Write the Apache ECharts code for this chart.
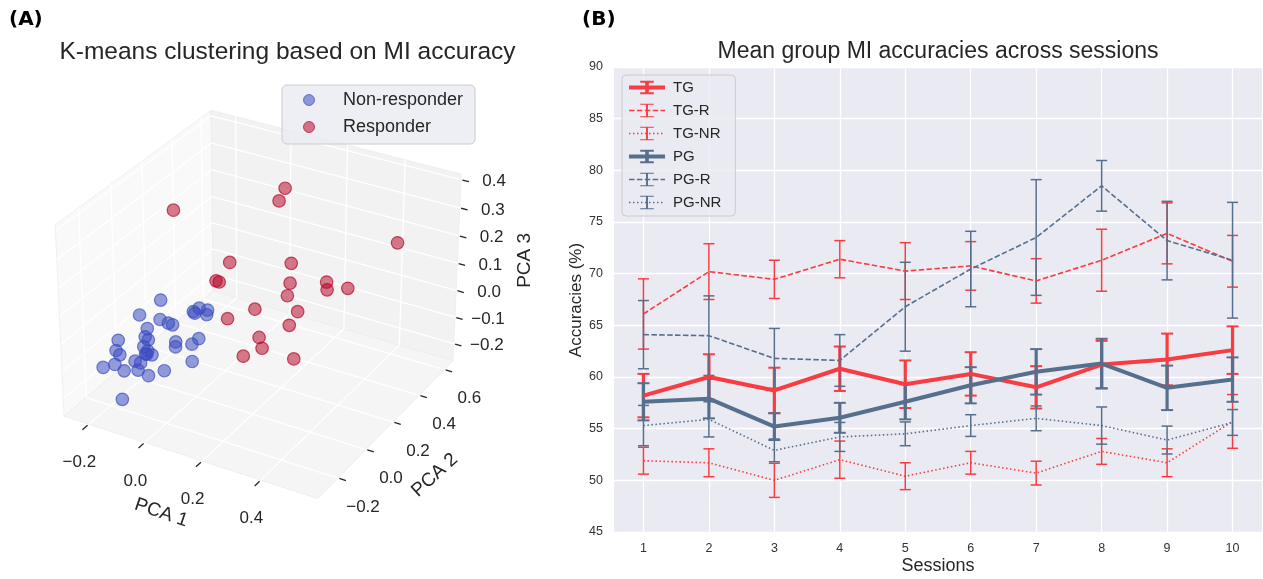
<!DOCTYPE html>
<html>
<head>
<meta charset="utf-8">
<script src="https://cdn.jsdelivr.net/npm/echarts@6/dist/echarts.min.js"></script>
<style>
  html, body { margin: 0; padding: 0; background: #ffffff; }
  #chart { width: 1263px; height: 579px; }
</style>
</head>
<body>
<div id="chart"></div>
<script>
// ---------------- Panel B: mean MI accuracy (%) per session ----------------
const sessions = [1, 2, 3, 4, 5, 6, 7, 8, 9, 10];

const tgMean   = [58.2, 60.0, 58.7, 60.8, 59.3, 60.3, 59.0, 61.2, 61.7, 62.6];
const tgErr    = [2.1, 2.2, 2.2, 2.15, 2.3, 2.1, 2.05, 2.3, 2.5, 2.3];
const tgRMean  = [66.1, 70.2, 69.45, 71.4, 70.25, 70.75, 69.3, 71.3, 73.9, 71.2];
const tgRErr   = [3.4, 2.7, 1.85, 1.8, 2.75, 2.35, 2.15, 3.0, 2.95, 2.5];
const tgNRMean = [51.9, 51.7, 50.0, 52.0, 50.4, 51.7, 50.7, 52.8, 51.7, 55.7];
const tgNRErr  = [1.3, 1.35, 1.65, 1.8, 1.3, 1.1, 1.15, 1.25, 1.35, 2.6];

const pgMean   = [57.6, 57.9, 55.2, 56.05, 57.6, 59.2, 60.5, 61.3, 58.95, 59.75];
const pgErr    = [1.8, 1.9, 1.3, 1.45, 1.7, 1.75, 2.2, 2.4, 2.15, 2.15];
const pgRMean  = [64.1, 64.0, 61.8, 61.6, 66.8, 70.45, 73.5, 78.5, 73.2, 71.3];
const pgRErr   = [3.3, 3.85, 2.9, 2.5, 4.3, 3.65, 5.6, 2.45, 3.8, 5.6];
const pgNRMean = [55.3, 55.9, 52.9, 54.2, 54.5, 55.3, 56.0, 55.3, 53.9, 55.6];
const pgNRErr  = [1.95, 1.7, 1.1, 1.4, 1.15, 1.05, 1.2, 1.8, 1.35, 1.25];

const accuracyTicks = [45, 50, 55, 60, 65, 70, 75, 80, 85, 90];

// ---------------- Panel A: PCA scores of the k-means clusters ----------------
const nonResponderPCA1 = [-0.122, -0.143, -0.070, -0.041, -0.081, -0.060, -0.060, -0.039, -0.009, 0.041,
                          -0.001, -0.125, -0.114, -0.165, -0.131, -0.064, -0.102, -0.182, -0.174, -0.219,
                          -0.180, -0.223, -0.205, -0.164, -0.087, -0.154, -0.060, -0.059, -0.071, -0.017,
                          -0.013, -0.042, 0.041, -0.157, -0.117];
const nonResponderPCA2 = [0.0, -0.1, -0.1, -0.1, 0.0, -0.2, 0.1, 0.1, 0.1, 0.0,
                          0.0, -0.1, -0.1, -0.2, -0.1, -0.2, -0.1, 0.0, -0.2, -0.1,
                          -0.2, -0.2, -0.1, -0.1, -0.2, -0.1, -0.2, -0.1, 0.0, -0.1,
                          0.0, 0.1, -0.1, -0.2, -0.1];
const nonResponderPCA3 = [0.054, 0.039, 0.045, 0.041, -0.024, 0.062, -0.015, 0.004, 0.006, 0.050,
                          0.043, -0.035, -0.043, -0.013, -0.073, -0.032, -0.094, -0.163, -0.053, -0.131,
                          -0.106, -0.131, -0.186, -0.137, -0.071, -0.167, -0.109, -0.139, -0.084, -0.038,
                          -0.074, -0.110, -0.073, -0.228, -0.084];

const responderPCA1 = [0.113, 0.092, -0.070, 0.413, 0.071, 0.136, 0.075, 0.086, 0.230, 0.261,
                       0.357, 0.335, 0.270, 0.158, 0.257, 0.114, 0.277, 0.223, 0.183, 0.168, 0.342];
const responderPCA2 = [0.4, 0.4, 0.0, 0.6, 0.1, 0.4, 0.0, 0.0, 0.2, 0.4,
                       0.2, 0.4, 0.1, 0.1, 0.2, 0.0, 0.1, 0.0, 0.1, 0.0, 0.0];
const responderPCA3 = [0.351, 0.300, 0.389, 0.154, 0.202, 0.086, 0.182, 0.181, 0.130, 0.054,
                       0.144, 0.053, 0.142, 0.060, 0.035, 0.058, 0.038, 0.024, -0.075, -0.061, -0.016];

const pca1Ticks = [-0.2, 0.0, 0.2, 0.4];
const pca2Ticks = [-0.2, 0.0, 0.2, 0.4, 0.6];
const pca3Ticks = [-0.2, -0.1, 0.0, 0.1, 0.2, 0.3, 0.4];

// ---------------- 3D view of panel A ----------------
const LIM = { x: [-0.29, 0.59], y: [-0.34, 0.67], z: [-0.265, 0.42] };
const BOX = [4, 4, 3];           // box aspect of the 3D axes
const ELEV = 30, AZIM = -60;     // view angles in degrees
const EYE = 35;                  // eye distance, in box units
const A_W = 560, A_H = 579, A_CX = 262, A_CY = 295.5, A_SCALE = 72.7;

// perspective projection of a data point -> [screen-right, screen-up, depth]
function project(x, y, z) {
  const X = BOX[0] * ((x - LIM.x[0]) / (LIM.x[1] - LIM.x[0]) - 0.5);
  const Y = BOX[1] * ((y - LIM.y[0]) / (LIM.y[1] - LIM.y[0]) - 0.5);
  const Z = BOX[2] * ((z - LIM.z[0]) / (LIM.z[1] - LIM.z[0]) - 0.5);
  const az = AZIM * Math.PI / 180, el = ELEV * Math.PI / 180;
  const right = -Math.sin(az) * X + Math.cos(az) * Y;
  const h = Math.cos(az) * X + Math.sin(az) * Y;
  const n = h * Math.cos(el) + Z * Math.sin(el);
  const up = Z * Math.cos(el) - h * Math.sin(el);
  const p = EYE / (EYE - n);
  return [right * p, up * p, n];
}

function cloud(xs, ys, zs) {
  return xs.map((x, i) => project(x, ys[i], zs[i]))
           .sort((a, b) => a[2] - b[2]);
}

function fmtTick(v) {
  return (v < 0 ? '\u2212' : '') + Math.abs(v).toFixed(1);
}

const FONT = '"Liberation Sans", Arial, sans-serif';
const TEXT = '#262626';

function frameRenderItem(params, api) {
  const P = (x, y, z) => { const q = project(x, y, z); return api.coord([q[0], q[1]]); };
  const [x0, x1] = LIM.x, [y0, y1] = LIM.y, [z0, z1] = LIM.z;
  const kids = [];
  const poly = (pts, fill) => kids.push({ type: 'polygon', shape: { points: pts },
    style: { fill: fill, stroke: '#ececec', lineWidth: 0.8 } });
  const seg = (a, b, stroke, w) => kids.push({ type: 'line',
    shape: { x1: a[0], y1: a[1], x2: b[0], y2: b[1] }, style: { stroke: stroke, lineWidth: w } });
  const label = (pt, dx, dy, text, size, rot) => kids.push({ type: 'text',
    x: pt[0] + dx, y: pt[1] + dy, rotation: rot || 0,
    style: { text: text, fill: TEXT, fontSize: size, fontFamily: FONT, align: 'center', verticalAlign: 'middle' } });

  // panes
  poly([P(x0, y0, z0), P(x0, y1, z0), P(x0, y1, z1), P(x0, y0, z1)], '#f9f9f9');
  poly([P(x0, y1, z0), P(x1, y1, z0), P(x1, y1, z1), P(x0, y1, z1)], '#f2f2f2');
  poly([P(x0, y0, z0), P(x1, y0, z0), P(x1, y1, z0), P(x0, y1, z0)], '#f5f5f5');

  // grid lines
  const GW = 1.3;
  pca1Ticks.forEach(x => { seg(P(x, y0, z0), P(x, y1, z0), '#ffffff', GW); seg(P(x, y1, z0), P(x, y1, z1), '#ffffff', GW); });
  pca2Ticks.forEach(y => { seg(P(x0, y, z0), P(x1, y, z0), '#ffffff', GW); seg(P(x0, y, z0), P(x0, y, z1), '#ffffff', GW); });
  pca3Ticks.forEach(z => { seg(P(x0, y0, z), P(x0, y1, z), '#ffffff', GW); seg(P(x0, y1, z), P(x1, y1, z), '#ffffff', GW); });

  // ticks and tick labels
  const ry = y1 - y0, rx = x1 - x0;
  pca1Ticks.forEach(x => {
    seg(P(x, y0 - 0.008 * ry, z0), P(x, y0 - 0.04 * ry, z0), TEXT, 1.3);
    label(P(x, y0, z0), -9.5, 38.5, fmtTick(x), 17);
  });
  pca2Ticks.forEach(y => {
    seg(P(x1 + 0.005 * rx, y, z0), P(x1 + 0.03 * rx, y, z0), TEXT, 1.3);
    label(P(x1, y, z0), 25, 29, fmtTick(y), 17);
  });
  pca3Ticks.forEach(z => {
    seg(P(x1 + 0.005 * rx, y1, z), P(x1 + 0.03 * rx, y1, z), TEXT, 1.3);
    label(P(x1, y1, z), 33, 2, fmtTick(z), 17);
  });

  // axis titles
  label(P((x0 + x1) / 2, y0, z0), -26.5, 56.5, 'PCA 1', 19, -0.325);
  label(P(x1, (y0 + y1) / 2, z0), 46.5, 48.5, 'PCA 2', 19, 0.738);
  label(P(x1, y1, (z0 + z1) / 2), 68, -9, 'PCA 3', 19, Math.PI / 2);

  return { type: 'group', children: kids };
}

// ---------------- Panel B helpers ----------------
const TG_COLOR = '#f93c41';
const PG_COLOR = '#566f8c';
const IBEAM_THICK = 'path://M0,0H12V3H7.6V17H12V20H0V17H4.4V3H0Z';
const IBEAM_THIN = 'path://M0,0H12V1.7H6.85V18.3H12V20H0V18.3H5.15V1.7H0Z';

function pairs(vals) { return sessions.map((s, i) => [s, vals[i]]); }

function lineSeries(name, vals, color, width, type) {
  return {
    type: 'line', name: name, xAxisIndex: 1, yAxisIndex: 1,
    data: pairs(vals), showSymbol: false,
    symbol: width > 2 ? IBEAM_THICK : IBEAM_THIN,
    itemStyle: { color: color },
    lineStyle: { color: color, width: width, type: type },
    emphasis: { disabled: true }, silent: true
  };
}

function errSeries(name, vals, errs, color, width, cap) {
  return {
    type: 'custom', name: name, xAxisIndex: 1, yAxisIndex: 1,
    data: sessions.map((s, i) => [s, vals[i], errs[i]]),
    encode: { x: 0, y: 1 },
    silent: true,
    renderItem: function (params, api) {
      const s = api.value(0), m = api.value(1), e = api.value(2);
      const top = api.coord([s, m + e]);
      const bot = api.coord([s, m - e]);
      const st = { stroke: color, lineWidth: width };
      return {
        type: 'group', children: [
          { type: 'line', shape: { x1: top[0], y1: top[1], x2: bot[0], y2: bot[1] }, style: st },
          { type: 'line', shape: { x1: top[0] - cap, y1: top[1], x2: top[0] + cap, y2: top[1] }, style: { stroke: color, lineWidth: Math.min(width, 2) } },
          { type: 'line', shape: { x1: bot[0] - cap, y1: bot[1], x2: bot[0] + cap, y2: bot[1] }, style: { stroke: color, lineWidth: Math.min(width, 2) } }
        ]
      };
    }
  };
}

const DASH = [5.5, 2.4];
const DOT = [1.5, 2.5];

const option = {
  animation: false,
  backgroundColor: '#ffffff',
  graphic: [
    { type: 'text', x: 9, y: 20, style: { text: '(A)', fill: '#000', fontSize: 20, fontWeight: 'bold', fontFamily: '"DejaVu Sans", sans-serif', verticalAlign: 'middle' } },
    { type: 'text', x: 582, y: 20, style: { text: '(B)', fill: '#000', fontSize: 20, fontWeight: 'bold', fontFamily: '"DejaVu Sans", sans-serif', verticalAlign: 'middle' } },
    { type: 'text', x: 287.5, y: 52, style: { text: 'K-means clustering based on MI accuracy', fill: TEXT, fontSize: 24.5, fontFamily: FONT, align: 'center', verticalAlign: 'middle' } },
    { type: 'text', x: 938, y: 52, style: { text: 'Mean group MI accuracies across sessions', fill: TEXT, fontSize: 23, fontFamily: FONT, align: 'center', verticalAlign: 'middle' } },
    { type: 'text', x: 576, y: 300, rotation: Math.PI / 2, style: { text: 'Accuracies (%)', fill: TEXT, fontSize: 17, fontFamily: FONT, align: 'center', verticalAlign: 'middle' } },
    { type: 'text', x: 938, y: 566, style: { text: 'Sessions', fill: TEXT, fontSize: 18, fontFamily: FONT, align: 'center', verticalAlign: 'middle' } }
  ],
  grid: [
    { left: 0, top: 0, width: A_W, height: A_H },
    { left: 614, right: 1, top: 67, bottom: 47, show: true, backgroundColor: '#eaeaf2', borderWidth: 0 }
  ],
  xAxis: [
    { type: 'value', gridIndex: 0, min: -A_CX / A_SCALE, max: (A_W - A_CX) / A_SCALE, show: false },
    {
      type: 'value', gridIndex: 1, min: 0.55, max: 10.45,
      axisLine: { show: false },
      axisTick: { show: false, customValues: sessions },
      axisLabel: { customValues: sessions, fontSize: 12.5, color: '#333', fontFamily: FONT, margin: 10 },
      splitLine: { show: true, lineStyle: { color: '#ffffff', width: 1.3 } }
    }
  ],
  yAxis: [
    { type: 'value', gridIndex: 0, min: -(A_H - A_CY) / A_SCALE, max: A_CY / A_SCALE, show: false },
    {
      type: 'value', gridIndex: 1, min: accuracyTicks[0], max: accuracyTicks[accuracyTicks.length - 1], interval: 5,
      axisLine: { show: false }, axisTick: { show: false },
      axisLabel: { fontSize: 12.5, color: '#333', fontFamily: FONT, margin: 11 },
      splitLine: { show: true, lineStyle: { color: '#ffffff', width: 1.3 } }
    }
  ],
  legend: [
    {
      data: ['Non-responder', 'Responder'],
      left: 282, top: 85, orient: 'vertical',
      icon: 'circle', itemWidth: 40, itemHeight: 11, itemGap: 7,
      padding: [5, 12, 7, 21],
      backgroundColor: 'rgba(234,234,242,0.8)', borderColor: '#cccccc', borderWidth: 1, borderRadius: 5,
      itemStyle: { borderWidth: 1 },
      textStyle: { fontSize: 18, color: TEXT, fontFamily: FONT, lineHeight: 20, padding: [0, 0, 0, 9] },
      selectedMode: false
    },
    {
      data: [
        { name: 'TG', lineStyle: { width: 4 } },
        { name: 'TG-R', lineStyle: { width: 1.6 } },
        { name: 'TG-NR', lineStyle: { width: 1.6 } },
        { name: 'PG', lineStyle: { width: 4 } },
        { name: 'PG-R', lineStyle: { width: 1.6 } },
        { name: 'PG-NR', lineStyle: { width: 1.6 } }
      ],
      left: 622, top: 75, orient: 'vertical',
      itemWidth: 36, itemHeight: 17, itemGap: 6,
      padding: [4, 14, 5, 5],
      backgroundColor: 'rgba(234,234,242,0.8)', borderColor: '#cccccc', borderWidth: 1, borderRadius: 4,
      itemStyle: { borderWidth: 0 },
      textStyle: { fontSize: 15, color: TEXT, fontFamily: FONT, lineHeight: 17, padding: [0, 0, 0, 3] },
      selectedMode: false
    }
  ],
  series: [
    {
      type: 'custom', name: 'frame', xAxisIndex: 0, yAxisIndex: 0,
      data: [[0, 0]], silent: true, renderItem: frameRenderItem
    },
    {
      type: 'scatter', name: 'Non-responder', xAxisIndex: 0, yAxisIndex: 0,
      data: cloud(nonResponderPCA1, nonResponderPCA2, nonResponderPCA3),
      symbolSize: 12.5, silent: true,
      itemStyle: { color: 'rgba(59,76,192,0.68)', borderColor: 'rgba(59,76,192,0.85)', borderWidth: 1.2 }
    },
    {
      type: 'scatter', name: 'Responder', xAxisIndex: 0, yAxisIndex: 0,
      data: cloud(responderPCA1, responderPCA2, responderPCA3),
      symbolSize: 12.5, silent: true,
      itemStyle: { color: 'rgba(180,4,38,0.66)', borderColor: 'rgba(180,4,38,0.85)', borderWidth: 1.2 }
    },
    lineSeries('TG', tgMean, TG_COLOR, 4, 'solid'),
    errSeries('TG error', tgMean, tgErr, TG_COLOR, 3.2, 6),
    lineSeries('TG-R', tgRMean, TG_COLOR, 1.6, DASH),
    errSeries('TG-R error', tgRMean, tgRErr, TG_COLOR, 1.5, 5.5),
    lineSeries('TG-NR', tgNRMean, TG_COLOR, 1.6, DOT),
    errSeries('TG-NR error', tgNRMean, tgNRErr, TG_COLOR, 1.5, 5.5),
    lineSeries('PG', pgMean, PG_COLOR, 4, 'solid'),
    errSeries('PG error', pgMean, pgErr, PG_COLOR, 3.2, 6),
    lineSeries('PG-R', pgRMean, PG_COLOR, 1.6, DASH),
    errSeries('PG-R error', pgRMean, pgRErr, PG_COLOR, 1.5, 5.5),
    lineSeries('PG-NR', pgNRMean, PG_COLOR, 1.6, DOT),
    errSeries('PG-NR error', pgNRMean, pgNRErr, PG_COLOR, 1.5, 5.5)
  ]
};

const chart = echarts.init(document.getElementById('chart'), null, { renderer: 'canvas', width: 1263, height: 579 });
chart.setOption(option);
</script>
</body>
</html>
